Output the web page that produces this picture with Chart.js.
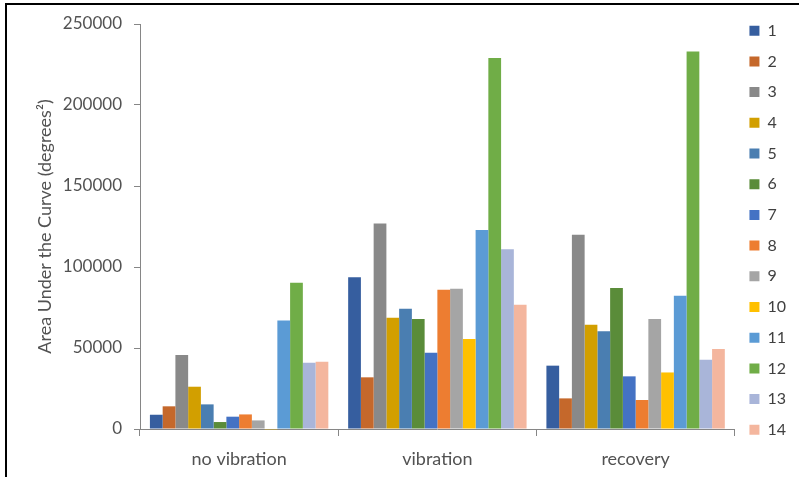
<!DOCTYPE html>
<html>
<head>
<meta charset="utf-8">
<script src="https://cdn.jsdelivr.net/npm/chart.js@4.4.1/dist/chart.umd.min.js"></script>
<style>
  html, body { margin: 0; padding: 0; background: #fff; }
  #wrap { position: relative; width: 799px; height: 477px; overflow: hidden; }
  #frame { position: absolute; left: 5px; top: 3px; right: -10px; bottom: -10px;
           border-top: 2px solid #000; border-left: 2px solid #000; pointer-events: none; }
</style>
</head>
<body>
<div id="wrap">
  <canvas id="aucChart"></canvas>
  <div id="frame"></div>
</div>
<script>
// conditions on the x axis
var categories = ['no vibration', 'vibration', 'recovery'];

// one bar per subject inside each condition
var subjects = ['1', '2', '3', '4', '5', '6', '7', '8', '9', '10', '11', '12', '13', '14'];

var noVibration = [8800, 14000, 45700, 26100, 15200, 4300, 7600, 9000, 5300, -500, 66900, 90300, 40900, 41500];
var vibration   = [93600, 31900, 126900, 68700, 74300, 67900, 47100, 86000, 86600, 55600, 122800, 229000, 110900, 76700];
var recovery    = [39100, 18900, 119900, 64400, 60300, 87000, 32500, 17900, 67900, 34900, 82300, 233100, 42800, 49400];

var yTicks = [0, 50000, 100000, 150000, 200000, 250000];

var colors = ['#365E9F', '#C5682B', '#898989', '#D29F00', '#4A7EB1', '#5A8C39', '#4472C4',
              '#ED7D31', '#A5A5A5', '#FFC000', '#5B9BD5', '#70AD47', '#A9B5D9', '#F4B69E'];

var axisGray = '#868686';
var textGray = '#525252';
var font = 'Lato';

function drawChart() {
    var ctx = document.getElementById('aucChart').getContext('2d');

    var datasets = subjects.map(function (name, i) {
        return {
            label: name,
            backgroundColor: colors[i],
            borderWidth: 0,
            clip: false,
            data: [noVibration[i], vibration[i], recovery[i]]
        };
    });

    new Chart(ctx, {
        type: 'bar',
        data: {
            labels: categories,
            datasets: datasets
        },
        options: {
            responsive: true,
            maintainAspectRatio: false,
            animation: false,
            datasets: { bar: { categoryPercentage: 0.9, barPercentage: 1.0 } },
            layout: { padding: { left: 8, top: 8, right: 3, bottom: 8 } },
            plugins: {
                legend: {
                    position: 'right',
                    align: 'start',
                    labels: {
                        boxWidth: 10,
                        boxHeight: 10,
                        padding: 14.7,
                        color: '#404040',
                        font: { family: font, size: 16 }
                    }
                },
                tooltip: { enabled: false }
            },
            scales: {
                x: {
                    afterFit: function (scale) { scale.height = 40; },
                    grid: { drawOnChartArea: false, tickLength: 7, color: axisGray },
                    border: { color: axisGray },
                    ticks: { color: textGray, font: { family: font, size: 18 }, padding: 12 }
                },
                y: {
                    min: yTicks[0],
                    max: yTicks[yTicks.length - 1],
                    afterBuildTicks: function (scale) {
                        scale.ticks = yTicks.map(function (v) { return { value: v }; });
                    },
                    afterFit: function (scale) {
                        scale.paddingTop = 24;
                        scale.width = 132;
                    },
                    grid: { drawOnChartArea: false, tickLength: 6, color: axisGray },
                    border: { color: axisGray },
                    ticks: {
                        color: textGray,
                        font: { family: font, size: 17 },
                        padding: 12,
                        callback: function (v) { return String(v); }
                    },
                    title: {
                        display: true,
                        text: 'Area Under the Curve (degrees²)',
                        color: textGray,
                        font: { family: font, size: 18 },
                        padding: { top: 26, bottom: 0 }
                    }
                }
            }
        }
    });
}

document.fonts.load('17px Lato').then(drawChart, drawChart);
</script>
</body>
</html>
